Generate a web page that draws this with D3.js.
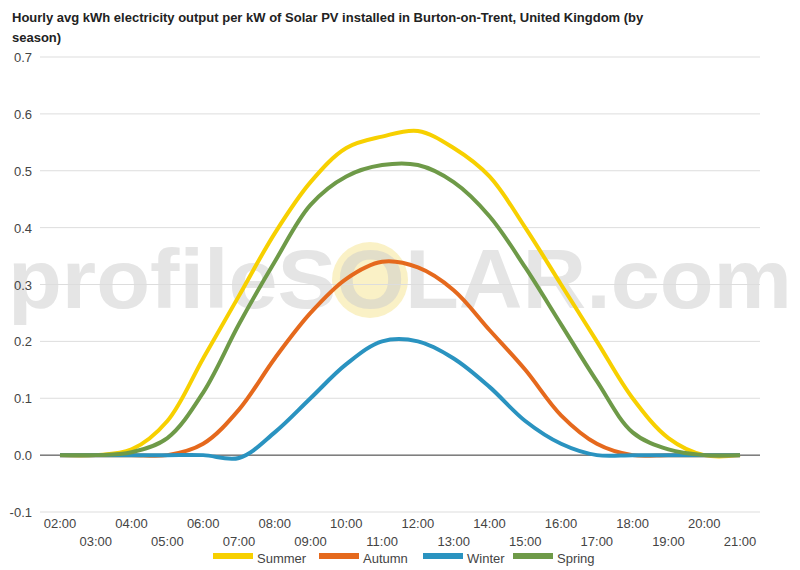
<!DOCTYPE html><html><head><meta charset="utf-8"><script src="https://cdn.jsdelivr.net/npm/d3@7"></script>
<style>body{margin:0;background:#fff;font-family:Arial,"Liberation Sans",sans-serif}</style></head><body><svg id="c" width="800" height="570"></svg><script>
const hours=["02:00","03:00","04:00","05:00","06:00","07:00","08:00","09:00","10:00","11:00","12:00","13:00","14:00","15:00","16:00","17:00","18:00","19:00","20:00","21:00"];
const summer=[0,0,0.01,0.06,0.17,0.28,0.39,0.48,0.54,0.56,0.57,0.54,0.49,0.40,0.30,0.20,0.10,0.03,0.0,0];
const autumn=[0,0,0,0,0.02,0.08,0.17,0.25,0.31,0.34,0.33,0.29,0.22,0.15,0.07,0.02,0,0,0,0];
const winter=[0,0,0,0,0,-0.005,0.04,0.10,0.16,0.20,0.20,0.17,0.12,0.06,0.02,0,0,0,0,0];
const spring=[0,0,0.005,0.03,0.11,0.23,0.34,0.44,0.49,0.51,0.51,0.48,0.42,0.33,0.23,0.13,0.04,0.01,0,0];
const yTicks=[-0.1,0,0.1,0.2,0.3,0.4,0.5,0.6,0.7];
const series=[{n:"Summer",v:summer,c:"#f7d000"},{n:"Autumn",v:autumn,c:"#e5691d"},{n:"Winter",v:winter,c:"#2a93c0"},{n:"Spring",v:spring,c:"#6e9a48"}];
const svg=d3.select("#c");
svg.append("text").attr("x",12).attr("y",22).attr("font-size",13).attr("font-weight","bold").attr("fill","#222").text("Hourly avg kWh electricity output per kW of Solar PV installed in Burton-on-Trent, United Kingdom (by");
svg.append("text").attr("x",12).attr("y",42).attr("font-size",13).attr("font-weight","bold").attr("fill","#222").text("season)");
const x=d3.scalePoint().domain(hours).range([60,740]);
const y=d3.scaleLinear().domain([-0.1,0.7]).range([512,57]);
const L=40,R=760;
// watermark (behind axis labels)
svg.append("circle").attr("cx",370).attr("cy",280).attr("r",38).attr("fill","#f7e7a0").attr("opacity",0.6);
svg.append("text").attr("x",8).attr("y",308).attr("textLength",784).attr("lengthAdjust","spacingAndGlyphs").attr("font-size",84).attr("font-weight","bold").attr("fill","#ccc").attr("opacity",0.5).text("profileSOLAR.com");
yTicks.forEach(t=>{svg.append("line").attr("x1",L).attr("x2",R).attr("y1",y(t)).attr("y2",y(t)).attr("stroke",t===0?"#333":"#ddd");
svg.append("text").attr("x",32).attr("y",y(t)+5).attr("text-anchor","end").attr("font-size",13).attr("fill","#444").text(t.toFixed(1));});
hours.forEach((h,i)=>svg.append("text").attr("x",x(h)).attr("y",i%2?546:528).attr("text-anchor","middle").attr("font-size",13).attr("fill","#444").text(h));
const line=d3.line().x((d,i)=>x(hours[i])).y(d=>y(d)).curve(d3.curveCatmullRom);
series.forEach(s=>svg.append("path").attr("d",line(s.v)).attr("fill","none").attr("stroke",s.c).attr("stroke-width",4));
const lx=[213,319,423,513];
series.forEach((s,i)=>{svg.append("rect").attr("x",lx[i]).attr("y",553).attr("width",40).attr("height",6).attr("fill",s.c);
svg.append("text").attr("x",lx[i]+44).attr("y",563).attr("font-size",13).attr("fill","#444").text(s.n);});
</script></body></html>
